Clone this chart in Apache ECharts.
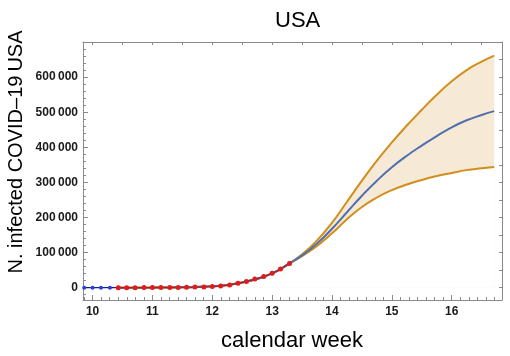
<!DOCTYPE html>
<html>
<head>
<meta charset="utf-8">
<script src="https://cdn.jsdelivr.net/npm/echarts@6/dist/echarts.min.js"></script>
<style>
    html, body { margin: 0; padding: 0; background: #fff; }
    #chart { width: 510px; height: 356px; }
</style>
</head>
<body>
<div id="chart"></div>
<script>
// early reported points (blue) and fitted period points (red)
var earlyWeeks = [9.86, 10.0, 10.14, 10.29];
var earlyCases = [30, 50, 70, 90];

var obsWeeks = [10.43, 10.57, 10.71, 10.86, 11.0, 11.14, 11.29, 11.43, 11.57, 11.71, 11.86,
    12.0, 12.14, 12.29, 12.43, 12.57, 12.71, 12.86, 13.0, 13.14, 13.29];
var obsCases = [100, 150, 200, 300, 400, 550, 700, 950, 1300, 1700, 2300,
    3500, 5000, 8000, 12500, 18000, 24500, 32000, 41000, 53000, 69000];

// model: median and the band around it
var fitWeeks = [10.43, 11.0, 11.5, 12.0, 12.5, 13.0, 13.29, 13.5, 13.75, 14.0, 14.25, 14.5,
    14.75, 15.0, 15.25, 15.5, 15.75, 16.0, 16.25, 16.5, 16.71];
var fitMedian = [100, 400, 1100, 4000, 15000, 41000, 69500, 92000, 126000, 168000, 215000, 262000,
    305000, 343000, 376000, 405000, 432000, 457000, 477000, 492000, 503000];
var fitUpper = [100, 400, 1100, 4000, 15000, 41000, 69500, 95000, 135000, 185000, 245000, 305000,
    362000, 414000, 462000, 507000, 550000, 588000, 620000, 644000, 661000];
var fitLower = [100, 400, 1100, 4000, 15000, 41000, 69500, 90000, 119000, 155000, 195000, 230000,
    257000, 278000, 294000, 307000, 318000, 327000, 335000, 340000, 344000];

var xLabels = [10, 11, 12, 13, 14, 15, 16];
var yLabels = [0, 100000, 200000, 300000, 400000, 500000, 600000];

function pairs(xs, ys) {
    var out = [];
    for (var i = 0; i < xs.length; i++) {
        out.push([xs[i], ys[i]]);
    }
    return out;
}

var xMin = 9.84, xMax = 16.84;
var yMin = -35000, yMax = 700000;
var frameColor = '#8a8a8a';

// tick positions
var dayTicks = [];
for (var k = -1; k <= 47; k++) {
    dayTicks.push(10 + k / 7);
}
var halfTicks = [];
for (var h = 0; h <= 13; h++) {
    halfTicks.push(10 + h * 0.5);
}
var yMinor = [];
for (var m = -20000; m <= 680000; m += 20000) {
    if (m % 100000 !== 0) yMinor.push(m);
}
var yRight = [];
for (var r = 0; r <= 650000; r += 50000) {
    yRight.push(r);
}

var earlyLine = pairs(earlyWeeks, earlyCases);
earlyLine.push([obsWeeks[0], obsCases[0]]);

function tickAxis(pos, values, len, showLine) {
    var isX = pos === 'top' || pos === 'bottom';
    return {
        type: 'value',
        position: pos,
        min: isX ? xMin : yMin,
        max: isX ? xMax : yMax,
        axisLine: {show: showLine, onZero: false, lineStyle: {color: frameColor, width: 1}},
        axisTick: {show: true, inside: true, length: len, customValues: values,
            lineStyle: {color: frameColor, width: 1}},
        axisLabel: {show: false},
        splitLine: {show: false}
    };
}

var chart = echarts.init(document.getElementById('chart'));

var option = {
    animation: false,
    title: {
        text: 'USA',
        left: 270,
        top: 5,
        textStyle: {fontFamily: 'Liberation Sans', fontSize: 22, fontWeight: 'normal', color: '#000'}
    },
    grid: {left: 83, right: 8, top: 42, bottom: 56},
    graphic: [
        {
            type: 'text',
            x: 16,
            y: 152,
            rotation: Math.PI / 2,
            style: {
                text: 'N. infected COVID\u201319\u2009USA',
                font: '20px "Liberation Sans"',
                fill: '#000',
                textAlign: 'center',
                textVerticalAlign: 'middle'
            }
        },
        {
            type: 'text',
            x: 292,
            y: 341,
            style: {
                text: 'calendar week',
                font: '22px "Liberation Sans"',
                fill: '#000',
                textAlign: 'center',
                textVerticalAlign: 'middle'
            }
        }
    ],
    xAxis: [
        {
            type: 'value',
            position: 'bottom',
            min: xMin,
            max: xMax,
            axisLine: {show: true, onZero: false, lineStyle: {color: frameColor, width: 1}},
            axisTick: {show: true, inside: true, length: 5, customValues: xLabels,
                lineStyle: {color: frameColor, width: 1}},
            axisLabel: {show: true, customValues: xLabels, margin: 6,
                fontFamily: 'Liberation Sans', fontSize: 12, fontWeight: 'bold', color: '#1a1a1a'},
            splitLine: {show: false}
        },
        tickAxis('bottom', dayTicks, 3, false),
        tickAxis('top', halfTicks, 3, true)
    ],
    yAxis: [
        {
            type: 'value',
            position: 'left',
            min: yMin,
            max: yMax,
            axisLine: {show: true, onZero: false, lineStyle: {color: frameColor, width: 1}},
            axisTick: {show: true, inside: true, length: 5, customValues: yLabels,
                lineStyle: {color: frameColor, width: 1}},
            axisLabel: {show: true, customValues: yLabels, margin: 5,
                fontFamily: 'Liberation Sans', fontSize: 12, fontWeight: 'bold', color: '#1a1a1a',
                formatter: function (v) {
                    return v === 0 ? '0' : (v / 1000) + '\u2009000';
                }},
            splitLine: {show: false}
        },
        tickAxis('left', yMinor, 3, false),
        tickAxis('right', yRight, 3, true)
    ],
    series: [
        {
            // band: upper filled beige, lower filled white on top of it
            type: 'line',
            data: pairs(fitWeeks, fitUpper),
            smooth: true,
            showSymbol: false,
            lineStyle: {opacity: 0},
            areaStyle: {color: '#f6ead6', opacity: 1},
            silent: true,
            z: 1
        },
        {
            type: 'line',
            data: pairs(fitWeeks, fitLower),
            smooth: true,
            showSymbol: false,
            lineStyle: {opacity: 0},
            areaStyle: {color: '#ffffff', opacity: 1},
            silent: true,
            z: 2
        },
        {
            type: 'line',
            data: pairs(fitWeeks, fitUpper),
            smooth: true,
            showSymbol: false,
            lineStyle: {color: '#d18e1c', width: 2},
            z: 3
        },
        {
            type: 'line',
            data: pairs(fitWeeks, fitLower),
            smooth: true,
            showSymbol: false,
            lineStyle: {color: '#d18e1c', width: 2},
            z: 3
        },
        {
            type: 'line',
            data: pairs(fitWeeks, fitMedian),
            smooth: true,
            showSymbol: false,
            lineStyle: {color: '#4f6fae', width: 2},
            z: 4
        },
        {
            type: 'line',
            data: earlyLine,
            symbol: 'circle',
            symbolSize: 4,
            itemStyle: {color: '#2a3fe0'},
            lineStyle: {color: '#1c1f6e', width: 1.2},
            z: 5
        },
        {
            type: 'line',
            data: pairs(obsWeeks, obsCases),
            symbol: 'circle',
            symbolSize: 5,
            itemStyle: {color: '#e01b1b'},
            lineStyle: {color: '#a81c1c', width: 1.2},
            z: 6
        }
    ]
};

chart.setOption(option);
</script>
</body>
</html>
